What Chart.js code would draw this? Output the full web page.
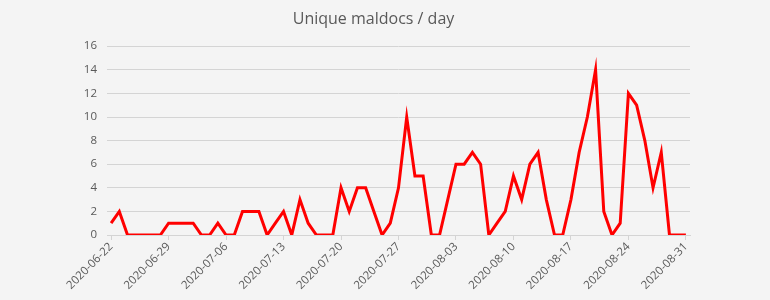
<!DOCTYPE html>
<html>
<head>
<meta charset="utf-8">
<script src="https://cdn.jsdelivr.net/npm/chart.js@4.4.0/dist/chart.umd.min.js"></script>
<style>
  html, body { margin: 0; padding: 0; background: #f4f4f4; }
  #wrap { width: 770px; height: 300px; }
</style>
</head>
<body>
<div id="wrap"><canvas id="maldocChart" width="770" height="300"></canvas></div>
<script>
const START_DATE = "2020-06-22";
const DAY_COUNT = 71;
const TICK_EVERY = 7;

// unique maldocs per day, 2020-06-22 .. 2020-08-31
const maldocCounts = [
    1, 2, 0, 0, 0, 0, 0, 1, 1, 1,
    1, 0, 0, 1, 0, 0, 2, 2, 2, 0,
    1, 2, 0, 3, 1, 0, 0, 0, 4, 2,
    4, 4, 2, 0, 1, 4, 10, 5, 5, 0,
    0, 3, 6, 6, 7, 6, 0, 1, 2, 5,
    3, 6, 7, 3, 0, 0, 3, 7, 10, 14,
    2, 0, 1, 12, 11, 8, 4, 7, 0, 0,
    0,
];
const yTicks = [0, 2, 4, 6, 8, 10, 12, 14, 16];

function buildDates(start, n) {
    const out = [];
    const d0 = new Date(start + "T00:00:00Z");
    for (let i = 0; i < n; i++) {
        const d = new Date(d0.getTime() + i * 86400000);
        out.push(d.toISOString().slice(0, 10));
    }
    return out;
}
const dayLabels = buildDates(START_DATE, DAY_COUNT);

const TEXT = "#595959";
const GRID = "#d4d4d4";

new Chart(document.getElementById("maldocChart"), {
    type: "line",
    data: {
        labels: dayLabels,
        datasets: [{
            label: "Unique maldocs",
            data: maldocCounts,
            borderColor: "#ff0000",
            borderWidth: 3,
            pointRadius: 0,
            tension: 0,
            fill: false,
        }],
    },
    options: {
        responsive: false,
        animation: false,
        layout: { padding: { left: 57, right: 80, top: 8, bottom: 0 } },
        plugins: {
            legend: { display: false },
            tooltip: { enabled: false },
            title: {
                display: true,
                text: "Unique maldocs / day",
                color: TEXT,
                font: { family: "Open Sans", size: 16, weight: "normal" },
                padding: { top: 2, bottom: 17 },
            },
        },
        scales: {
            x: {
                type: "category",
                offset: true,
                afterBuildTicks: (scale) => {
                    scale.ticks = scale.ticks.filter((t, i) => i % TICK_EVERY === 0);
                },
                afterFit: (scale) => { scale.height = 65; },
                border: { display: true, color: GRID, width: 1 },
                grid: {
                    drawOnChartArea: false,
                    drawTicks: true,
                    tickLength: 5,
                    color: GRID,
                },
                ticks: {
                    autoSkip: false,
                    maxRotation: 45,
                    minRotation: 45,
                    color: TEXT,
                    padding: 0,
                    font: { family: "Open Sans", size: 11.5 },
                },
            },
            y: {
                min: 0,
                max: 16,
                afterBuildTicks: (scale) => {
                    scale.ticks = yTicks.map(v => ({ value: v }));
                },
                afterFit: (scale) => { scale.width = 50; },
                border: { display: false },
                grid: { color: GRID, lineWidth: 1, drawTicks: false },
                ticks: {
                    color: TEXT,
                    padding: 10,
                    font: { family: "Open Sans", size: 11.5 },
                },
            },
        },
    },
});
</script>
</body>
</html>
